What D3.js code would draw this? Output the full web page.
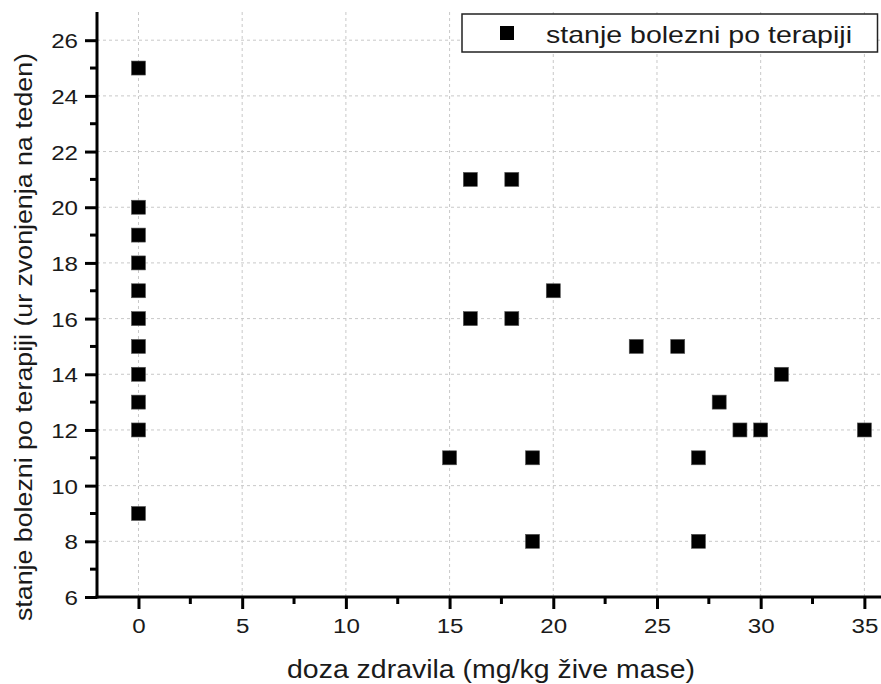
<!DOCTYPE html>
<html><head><meta charset="utf-8">
<script src="https://cdn.jsdelivr.net/npm/d3@7"></script>
<style>body{margin:0;background:#fff}svg{display:block;font-family:"Liberation Sans",Arial,sans-serif}</style>
</head><body><svg id="c" width="881" height="684"></svg>
<script>
const doseValues = [0,0,0,0,0,0,0,0,0,0,0,15,16,16,18,18,19,19,20,24,26,27,27,28,29,30,31,35];
const stateValues = [25,20,19,18,17,16,15,14,13,12,9,11,21,16,21,16,11,8,17,15,15,11,8,13,12,12,14,12];
const xTicks = [0,5,10,15,20,25,30,35];
const yTicks = [6,8,10,12,14,16,18,20,22,24,26];
const seriesName = "stanje bolezni po terapiji";
const xTitle = "doza zdravila (mg/kg žive mase)";
const yTitle = "stanje bolezni po terapiji (ur zvonjenja na teden)";

const svg = d3.select("#c");
const L = 97, B = 597, T = 12;
const x = d3.scaleLinear().domain([-2, 36]).range([L, L + 38*20.74]);
const y = d3.scaleLinear().domain([6, 27]).range([B, B - 21*27.84]);
const FF = "Liberation Sans, Arial, sans-serif";
const SX = 1.15;

// grid
const g = svg.append("g");
g.selectAll(".gx").data(xTicks).join("line")
  .attr("x1", d=>x(d)).attr("x2", d=>x(d)).attr("y1", B).attr("y2", T)
  .attr("stroke", "#c8c8c8").attr("stroke-width", 1).attr("stroke-dasharray", "3,3");
g.selectAll(".gy").data(yTicks).join("line")
  .attr("x1", L).attr("x2", 881).attr("y1", d=>y(d)).attr("y2", d=>y(d))
  .attr("stroke", "#c8c8c8").attr("stroke-width", 1).attr("stroke-dasharray", "3,3");

// points
svg.append("g").selectAll("rect").data(doseValues.map((d,i)=>[d, stateValues[i]])).join("rect")
  .attr("x", d=>x(d[0])-7).attr("y", d=>y(d[1])-7).attr("width", 14).attr("height", 14)
  .attr("fill", "#000").attr("stroke", "#555").attr("stroke-width", 0.6);

// axes
const xMinor = d3.range(-2.5, 36, 2.5).filter(v => v >= -2 && !xTicks.includes(v));
const yMinor = d3.range(7, 27, 2);
const xa = svg.append("g").attr("transform", `translate(0,${B})`)
  .call(d3.axisBottom(x).tickValues(xTicks).tickSize(12).tickFormat(d3.format("d")));
xa.select(".domain").remove();
xa.append("line").attr("x1", L-1.5).attr("x2", 881).attr("stroke", "#000").attr("stroke-width", 3);
xa.selectAll(".tick line").attr("stroke-width", 3);
xa.selectAll(".tick text").attr("dy", null).attr("y", 36).attr("font-size", 21)
  .attr("transform", `scale(${SX},1)`).attr("fill", "#1a1a1a").attr("font-family", FF);
xa.selectAll(".mn").data(xMinor).join("line").attr("x1", d=>x(d)).attr("x2", d=>x(d)).attr("y1", 0).attr("y2", 7).attr("stroke","#000").attr("stroke-width", 3);

const ya = svg.append("g").attr("transform", `translate(${L},0)`)
  .call(d3.axisLeft(y).tickValues(yTicks).tickSize(12).tickFormat(d3.format("d")));
ya.select(".domain").remove();
ya.append("line").attr("y1", B+1.5).attr("y2", T).attr("stroke", "#000").attr("stroke-width", 3);
ya.selectAll(".tick line").attr("stroke-width", 3);
ya.selectAll(".tick text").attr("x", -19/SX).attr("dy", "0.36em").attr("font-size", 21)
  .attr("transform", `scale(${SX},1)`).attr("fill", "#1a1a1a").attr("font-family", FF);
ya.selectAll(".mn").data(yMinor).join("line").attr("y1", d=>y(d)).attr("y2", d=>y(d)).attr("x1", 0).attr("x2", -7).attr("stroke","#000").attr("stroke-width", 3);

// titles
svg.append("text").attr("x", 287).attr("y", 678)
  .attr("font-size", 25).attr("fill", "#1a1a1a")
  .attr("textLength", 408).attr("lengthAdjust", "spacingAndGlyphs").text(xTitle);
svg.append("text").attr("transform", "translate(32,621) rotate(-90)")
  .attr("font-size", 23.5).attr("fill", "#1a1a1a")
  .attr("textLength", 568).attr("lengthAdjust", "spacingAndGlyphs").text(yTitle);

// legend
const lg = svg.append("g");
lg.append("rect").attr("x", 462).attr("y", 14).attr("width", 415.5).attr("height", 38)
  .attr("fill", "#fff").attr("stroke", "#222").attr("stroke-width", 1.5);
lg.append("rect").attr("x", 500).attr("y", 26).attr("width", 14).attr("height", 14).attr("fill", "#000");
lg.append("text").attr("x", 546).attr("y", 43).attr("font-size", 24).attr("fill", "#1a1a1a")
  .attr("textLength", 306).attr("lengthAdjust", "spacingAndGlyphs").text(seriesName);
</script></body></html>
